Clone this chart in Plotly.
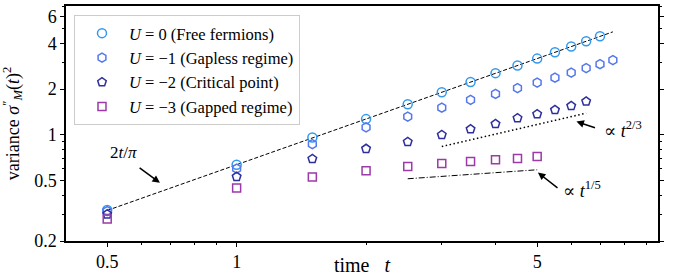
import numpy as np
import plotly.graph_objects as go

# ---- data ----
t_U0 = [0.5, 1, 1.5, 2, 2.5, 3, 3.5, 4, 4.5, 5, 5.5, 6, 6.5, 7]
var_U0 = [0.32, 0.635, 0.96, 1.27, 1.59, 1.91, 2.23, 2.55, 2.86, 3.18, 3.50, 3.82, 4.14, 4.46]

t_U1 = [0.5, 1, 1.5, 2, 2.5, 3, 3.5, 4, 4.5, 5, 5.5, 6, 6.5, 7, 7.5]
var_U1 = [0.315, 0.60, 0.87, 1.12, 1.32, 1.51, 1.70, 1.86, 2.03, 2.21, 2.38, 2.57, 2.75, 2.92, 3.11]

t_U2 = [0.5, 1, 1.5, 2, 2.5, 3, 3.5, 4, 4.5, 5, 5.5, 6, 6.5]
var_U2 = [0.30, 0.53, 0.695, 0.81, 0.90, 1.00, 1.09, 1.18, 1.29, 1.37, 1.46, 1.55, 1.66]

t_U3 = [0.5, 1, 1.5, 2, 2.5, 3, 3.5, 4, 4.5, 5]
var_U3 = [0.279, 0.446, 0.527, 0.58, 0.619, 0.647, 0.668, 0.685, 0.698, 0.72]

# reference guide lines
ref_free_t = [0.5, 7.5]
ref_free_v = [0.318, 4.77]          # 2t/pi
ref_23_t = [3.0, 6.5]
ref_23_v = [0.838, 1.39]            # ~ t^(2/3)
ref_15_t = [2.5, 5.0]
ref_15_v = [0.514, 0.589]           # ~ t^(1/5)

names = ["<i>U</i> = 0 (Free fermions)",
         "<i>U</i> = −1 (Gapless regime)",
         "<i>U</i> = −2 (Critical point)",
         "<i>U</i> = −3 (Gapped regime)"]

x_tickvals = [0.5, 1, 5]
x_ticktext = ["0.5", "1", "5"]
y_tickvals = [0.2, 0.5, 1, 2, 4, 6]
y_ticktext = ["0.2", "0.5", "1", "2", "4", "6"]

FONT = "Liberation Serif, DejaVu Serif, serif"

fig = go.Figure()

# guide lines
fig.add_trace(go.Scatter(x=ref_free_t, y=ref_free_v, mode="lines", showlegend=False,
                         line=dict(color="black", width=1, dash="4px,2px")))
fig.add_trace(go.Scatter(x=ref_23_t, y=ref_23_v, mode="lines", showlegend=False,
                         line=dict(color="black", width=1.5, dash="1.5px,2.5px")))
fig.add_trace(go.Scatter(x=ref_15_t, y=ref_15_v, mode="lines", showlegend=False,
                         line=dict(color="black", width=1, dash="6px,2px,1px,2px")))

series = [
    (t_U0, var_U0, "circle-open", "#3399ee", 9),
    (t_U1, var_U1, "hexagon-open", "#5577ee", 9),
    (t_U2, var_U2, "pentagon-open", "#2e2e9e", 9),
    (t_U3, var_U3, "square-open", "#9b3aa8", 8),
]
for i, (tx, vy, sym, col, sz) in enumerate(series):
    fig.add_trace(go.Scatter(x=tx, y=vy, mode="markers", name=names[i],
                             legendgroup=f"g{i}",
                             marker=dict(symbol=sym, size=sz, color=col,
                                         line=dict(color=col, width=1.5))))

L = np.log10
arrow_style = dict(showarrow=True, arrowhead=2, arrowsize=1, arrowwidth=1.5,
                   arrowcolor="black", xref="x", yref="y", axref="x", ayref="y", text="")
annotations = [
    dict(x=L(0.663), y=L(0.483), ax=L(0.590), ay=L(0.616), **arrow_style),
    dict(x=L(6.17), y=L(1.223), ax=L(6.87), ay=L(1.107), **arrow_style),
    dict(x=L(5.02), y=L(0.565), ax=L(5.62), ay=L(0.440), **arrow_style),
    dict(x=L(0.545), y=L(0.762), xref="x", yref="y", showarrow=False,
         text="2<i>t</i>/<i>π</i>", font=dict(family=FONT, size=17, color="black"),
         xanchor="center", yanchor="middle"),
    dict(x=L(7.06), y=L(1.08), xref="x", yref="y", showarrow=False,
         text="∝ <i>t</i><sup>2/3</sup>", font=dict(family=FONT, size=18, color="black"),
         xanchor="left", yanchor="middle"),
    dict(x=L(5.68), y=L(0.434), xref="x", yref="y", showarrow=False,
         text="∝ <i>t</i><sup>1/5</sup>", font=dict(family=FONT, size=18, color="black"),
         xanchor="left", yanchor="middle"),
]

fig.update_layout(
    width=673, height=276,
    margin=dict(l=66, r=15, t=6, b=35, autoexpand=False),
    paper_bgcolor="white", plot_bgcolor="white",
    font=dict(family=FONT, size=18, color="black"),
    showlegend=True,
    legend=dict(x=0.0135, y=0.962, xanchor="left", yanchor="top",
                bgcolor="rgba(255,255,255,0.85)", bordercolor="#cccccc", borderwidth=1,
                font=dict(family=FONT, size=16.5, color="black"),
                tracegroupgap=0, itemsizing="trace", itemwidth=44),
    annotations=annotations,
)

fig.update_xaxes(type="log", range=[L(0.401), L(9.55)], automargin=False,
                 tickvals=x_tickvals, ticktext=x_ticktext,
                 ticks="outside", ticklen=4, tickwidth=1, tickcolor="black",
                 showline=True, linecolor="black", linewidth=1.5, mirror=True,
                 showgrid=False, zeroline=False,
                 tickfont=dict(family=FONT, size=18),
                 minor=dict(tickvals=[0.6, 0.7, 0.8, 0.9, 2, 3, 4, 6, 7, 8, 9],
                            ticks="outside", ticklen=2.5, tickcolor="black", showgrid=False),
                 title=dict(text="time&nbsp;&nbsp;&nbsp;<i>t</i>", font=dict(family=FONT, size=20)))

fig.update_yaxes(type="log", range=[L(0.2), L(7.06)], automargin=False,
                 tickvals=y_tickvals, ticktext=y_ticktext,
                 ticks="outside", ticklen=4, tickwidth=1, tickcolor="black",
                 showline=True, linecolor="black", linewidth=1.5, mirror="ticks",
                 showgrid=False, zeroline=False,
                 tickfont=dict(family=FONT, size=18),
                 minor=dict(tickvals=[0.3, 0.4, 0.6, 0.7, 0.8, 0.9, 3, 5, 7],
                            ticks="outside", ticklen=2.5, tickcolor="black", showgrid=False),
                 title=dict(text="variance <i>σ</i><sup>″</sup><sub><i>M</i></sub>(<i>t</i>)<sup>2</sup>",
                            font=dict(family=FONT, size=18)))

fig.write_html("out.html", config={"displayModeBar": False},
               post_script="document.body.style.margin='0px';document.body.style.padding='0px';")
